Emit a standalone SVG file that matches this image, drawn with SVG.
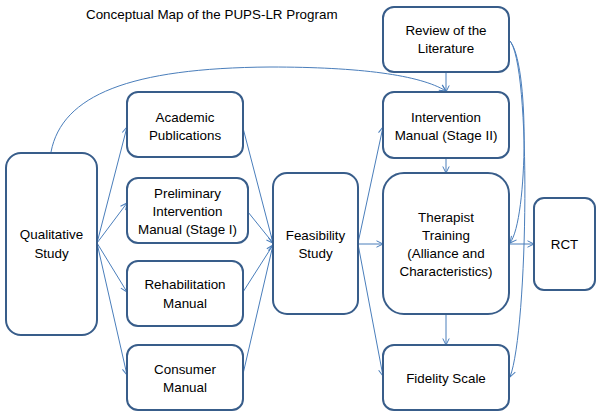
<svg xmlns="http://www.w3.org/2000/svg" width="600" height="416" viewBox="0 0 600 416">
<defs>
<marker id="arr" viewBox="0 0 8 8" refX="7.5" refY="4" markerWidth="8" markerHeight="8" markerUnits="userSpaceOnUse" orient="auto">
<path d="M1,0.8 L7.5,4 L1,7.2" fill="none" stroke="#4a7ebb" stroke-width="1"/>
</marker>
<style>
.box{fill:#fff;stroke:#385d8a;stroke-width:2}
.t{font-family:"Liberation Sans",Arial,sans-serif;font-size:13.4px;fill:#000;text-anchor:middle}
.c{fill:none;stroke:#4a7ebb;stroke-width:1;marker-end:url(#arr)}
</style>
</defs>
<rect width="600" height="416" fill="#fff"/>
<text x="86" y="19" class="t" style="text-anchor:start">Conceptual Map of the PUPS-LR Program</text>

<g id="connectors">
<path class="c" d="M51,152 C62,95 130,68 270,67 C360,67 420,75 446,91"/>
<line class="c" x1="97" y1="243" x2="127" y2="127"/>
<line class="c" x1="97" y1="243" x2="127" y2="203"/>
<line class="c" x1="97" y1="243" x2="127" y2="292"/>
<line class="c" x1="97" y1="243" x2="127" y2="375"/>
<line class="c" x1="243" y1="128" x2="273" y2="243"/>
<line class="c" x1="248" y1="212" x2="273" y2="243"/>
<line class="c" x1="243" y1="292" x2="273" y2="245"/>
<line class="c" x1="243" y1="374" x2="273" y2="245"/>
<line class="c" x1="358" y1="243" x2="383" y2="127"/>
<line class="c" x1="358" y1="244" x2="383" y2="244"/>
<line class="c" x1="358" y1="244" x2="383" y2="376"/>
<line class="c" x1="446" y1="72" x2="446" y2="92"/>
<line class="c" x1="446" y1="158" x2="446" y2="173"/>
<line class="c" x1="446" y1="314" x2="446" y2="345"/>
<line class="c" x1="509" y1="244" x2="534" y2="244"/>
<path class="c" d="M509,40 C530,60 528,220 510,243"/>
<path class="c" d="M509,40 C532,60 528,330 510,377"/>
</g>

<g id="qualitative">
<rect class="box" x="6" y="153" width="91" height="182" rx="15"/>
<text class="t" x="51.5" y="239">Qualitative</text>
<text class="t" x="51.5" y="258">Study</text>
</g>
<g id="academic">
<rect class="box" x="127" y="92" width="116" height="65" rx="11"/>
<text class="t" x="185" y="122">Academic</text>
<text class="t" x="185" y="140">Publications</text>
</g>
<g id="preliminary">
<rect class="box" x="127" y="178" width="121" height="65" rx="11"/>
<text class="t" x="187.5" y="198">Preliminary</text>
<text class="t" x="187.5" y="216">Intervention</text>
<text class="t" x="187.5" y="234">Manual (Stage I)</text>
</g>
<g id="rehabilitation">
<rect class="box" x="127" y="261" width="116" height="65" rx="11"/>
<text class="t" x="185" y="289">Rehabilitation</text>
<text class="t" x="185" y="308">Manual</text>
</g>
<g id="consumer">
<rect class="box" x="127" y="345" width="116" height="65" rx="11"/>
<text class="t" x="185" y="374">Consumer</text>
<text class="t" x="185" y="392">Manual</text>
</g>
<g id="feasibility">
<rect class="box" x="273" y="173" width="85" height="141" rx="14"/>
<text class="t" x="315.5" y="240">Feasibility</text>
<text class="t" x="315.5" y="258">Study</text>
</g>
<g id="review">
<rect class="box" x="383" y="7" width="126" height="65" rx="11"/>
<text class="t" x="446" y="35">Review of the</text>
<text class="t" x="446" y="53">Literature</text>
</g>
<g id="intervention2">
<rect class="box" x="383" y="92" width="126" height="66" rx="11"/>
<text class="t" x="446" y="122">Intervention</text>
<text class="t" x="446" y="140">Manual (Stage II)</text>
</g>
<g id="therapist">
<rect class="box" x="383" y="173" width="126" height="141" rx="21"/>
<text class="t" x="446" y="222">Therapist</text>
<text class="t" x="446" y="240">Training</text>
<text class="t" x="446" y="258">(Alliance and</text>
<text class="t" x="446" y="276">Characteristics)</text>
</g>
<g id="rct">
<rect class="box" x="534" y="198" width="61" height="92" rx="10"/>
<text class="t" x="564.5" y="249">RCT</text>
</g>
<g id="fidelity">
<rect class="box" x="383" y="345" width="126" height="65" rx="11"/>
<text class="t" x="446" y="383">Fidelity Scale</text>
</g>
</svg>
